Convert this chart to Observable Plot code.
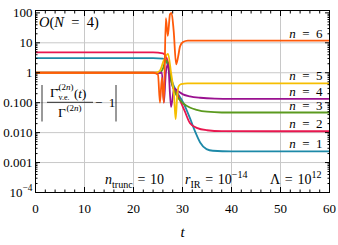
<!DOCTYPE html>
<html><head><meta charset="utf-8">
<script src="https://cdn.jsdelivr.net/npm/d3@7"></script>
<script src="https://cdn.jsdelivr.net/npm/@observablehq/plot@0.6"></script>
<style>body{margin:0;background:#fff}#chart{width:338px;height:245px}</style>
</head><body><div id="chart"></div>
<script>
// ---- data ----
const t1 = [0, 24, 26, 27.05, 27.8, 28.9, 30.1, 31.5, 32.5, 33.6, 34.9, 36.2, 40, 60];
const v1 = [3.1, 3.1, 2.95, 1.77, 0.55, 0.22, 0.104, 0.031, 0.0116, 0.0047, 0.0028, 0.00248, 0.00238, 0.00238];
const t2 = [0, 24, 26, 27.05, 27.46, 28.07, 28.9, 29.5, 30.5, 31.5, 32.9, 35, 38, 60];
const v2 = [4.8, 4.8, 4.4, 2.25, 0.86, 0.32, 0.2, 0.12, 0.05, 0.021, 0.0144, 0.012, 0.0112, 0.0111];
const t3 = [0, 25.4, 26, 26.6, 27.05, 27.66, 28.3, 28.9, 30.1, 31.5, 32.9, 35, 38, 60];
const v3 = [1, 1, 1.38, 2.65, 1.92, 0.55, 0.257, 0.163, 0.096, 0.069, 0.058, 0.05, 0.047, 0.047];
const t4 = [0, 25.4, 25.8, 26.2, 26.6, 27.05, 27.66, 28.3, 29.1, 30.1, 31.5, 33.6, 36.6, 40, 60];
const v4 = [1, 1, 1, 0.1, 1, 1.92, 0.072, 0.30, 0.24, 0.19, 0.163, 0.146, 0.137, 0.135, 0.135];
const t5 = [0, 24.6, 25.4, 26.2, 27.05, 27.66, 28.3, 28.6, 28.9, 29.2, 29.7, 31, 60];
const v5 = [1, 1, 1.18, 2.65, 4.3, 1.0, 0.15, 0.028, 0.15, 0.35, 0.42, 0.44, 0.44];
const t6 = [0, 24, 24.6, 25, 25.4, 25.8, 26.2, 26.6, 27, 27.45, 27.76, 28.2, 28.7, 29.1, 29.5, 30.1, 31.1, 60];
const v6 = [1, 1, 0.95, 0.86, 0.1, 0.69, 0.1, 66, 17, 90, 100, 25, 1.92, 3.4, 7.6, 10.6, 11.9, 11.9];

const seriesN = [1, 2, 3, 4, 5, 6];
const seriesT = [t1, t2, t3, t4, t5, t6];
const seriesV = [v1, v2, v3, v4, v5, v6];
const COLORS = ["#1d89a8", "#e8174f", "#5b9a1f", "#9a1190", "#f6be00", "#ff5a0a"];

const xMajor = [0, 10, 20, 30, 40, 50, 60];
const xGrid = [10, 20, 30, 40, 50];
const yTicks = [1e-4, 1e-3, 1e-2, 0.1, 1, 10, 100];
const yTickLabels = ["10^−4", "0.001", "0.010", "0.100", "1", "10", "100"];
const yGrid = [1e-3, 1e-2, 0.1, 1, 10];

// ---- build tables ----
const rows = [];
seriesN.forEach((n, i) => seriesT[i].forEach((t, j) => rows.push({n, t, v: seriesV[i][j]})));
const labels = seriesN.map((n, i) => ({n, v: seriesV[i][seriesV[i].length - 1]}));
const xMinor = d3.range(0, 61, 2);
const yMinor = [];
for (let e = -4; e < 2; e++) for (let k = 2; k <= 9; k++) yMinor.push(k * Math.pow(10, e));

const FONT = "'Liberation Serif', 'DejaVu Serif', serif";
const noText = () => "";

const plot = Plot.plot({
  width: 338, height: 245,
  marginLeft: 35, marginRight: 9, marginTop: 10, marginBottom: 53,
  style: {fontFamily: FONT, fontSize: "13px", background: "#fff", color: "#000"},
  x: {domain: [0, 60]},
  y: {type: "log", domain: [1e-4, 120]},
  color: {domain: seriesN, range: COLORS},
  marks: [
    Plot.gridX(xGrid, {stroke: "#c8c8c8", strokeOpacity: 1, strokeWidth: 1}),
    Plot.gridY(yGrid, {stroke: "#c8c8c8", strokeOpacity: 1, strokeWidth: 1}),
    Plot.line(rows, {x: "t", y: "v", z: "n", stroke: "n", strokeWidth: 1.8, curve: "monotone-x", clip: true}),
    Plot.text(labels, {y: "v", text: d => `n = ${d.n}`, frameAnchor: "right", dx: -7, dy: -3,
      textAnchor: "end", lineAnchor: "bottom", fontSize: 13, fill: "#000"}),
    Plot.frame({stroke: "#000", strokeWidth: 1}),
    Plot.axisX(xMajor, {anchor: "bottom", tickSize: -5, tickFormat: noText, label: null}),
    Plot.axisX(xMajor, {anchor: "top", tickSize: -5, tickFormat: noText, label: null}),
    Plot.axisX(xMinor, {anchor: "bottom", tickSize: -2.5, tickFormat: noText, label: null}),
    Plot.axisX(xMinor, {anchor: "top", tickSize: -2.5, tickFormat: noText, label: null}),
    Plot.axisY(yTicks, {anchor: "left", tickSize: -5, tickFormat: noText, label: null}),
    Plot.axisY(yTicks, {anchor: "right", tickSize: -5, tickFormat: noText, label: null}),
    Plot.axisY(yMinor, {anchor: "left", tickSize: -2.5, tickFormat: noText, label: null}),
    Plot.axisY(yMinor, {anchor: "right", tickSize: -2.5, tickFormat: noText, label: null}),
    Plot.axisX(xMajor, {anchor: "bottom", tickSize: 0, tickPadding: 11, fontSize: 13, label: null}),
    Plot.axisY(yTicks, {anchor: "left", tickSize: 0, tickPadding: 3, fontSize: 13, label: null,
      tickFormat: d => yTickLabels[yTicks.indexOf(d)]})
  ]
});
document.getElementById("chart").appendChild(plot);

// ---- rich text helpers ----
function setRich(el, parts, size) {
  const sel = d3.select(el);
  sel.text(null);
  let shift = 0;
  for (const p of parts) {
    const s = typeof p === "string" ? {t: p} : p;
    const target = s.sup ? -0.42 * size : s.sub ? 0.3 * size : 0;
    const ts = sel.append("tspan").text(s.t);
    if (target !== shift) ts.attr("dy", target - shift);
    shift = target;
    if (s.sup || s.sub) ts.attr("font-size", s.fs || size * 0.72);
    if (s.i) ts.attr("font-style", "italic");
  }
}
const svg = d3.select(plot);
function addText(x, y, parts, size, anchor = "start") {
  const el = svg.append("text").attr("x", x).attr("y", y).attr("font-size", size)
    .attr("font-family", FONT).attr("text-anchor", anchor).attr("fill", "#000");
  setRich(el.node(), parts, size);
  return el;
}
function addLine(x1, y1, x2, y2) {
  svg.append("line").attr("x1", x1).attr("y1", y1).attr("x2", x2).attr("y2", y2)
    .attr("stroke", "#000").attr("stroke-width", 0.8);
}

// tick label with superscript, line labels with italic n
svg.selectAll("text").each(function() {
  const s = this.textContent;
  if (s === "10^−4") setRich(this, ["10", {t: "−4", sup: 1}], 13);
  const m = /^n = (\d)$/.exec(s);
  if (m) setRich(this, [{t: "n", i: 1}, "\u2002=\u2002" + m[1]], 13);
});

const E = "\u2002";
const T = "\u2004";
// top-left label
addText(39, 27, [{t: "O", i: 1}, "(", {t: "N", i: 1}, E + "=" + E + "4)"], 14.5);
// fraction label
addLine(42, 85, 42, 121.5);
addLine(116, 85, 116, 121.5);
addText(50, 97, ["Γ\u0304"], 13.5);
addText(58.5, 90, ["(2", {t: "n", i: 1}, ")"], 9);
addText(58.5, 99.5, ["v.e."], 8);
addText(74, 97.5, ["(", {t: "t", i: 1}, ")"], 13);
addLine(47, 102.3, 93, 102.3);
addText(58, 117, ["Γ"], 13.5);
addText(66.5, 110.5, ["(2", {t: "n", i: 1}, ")"], 9);
addText(95, 106.5, ["−" + E + "1"], 13);
// bottom parameters
addText(105, 184, [{t: "n", i: 1}, {t: "trunc", sub: 1}, T + "=" + T + "10"], 14);
addText(185, 184, [{t: "r", i: 1}, {t: "IR", sub: 1}, T + "=" + T + "10", {t: "−14", sup: 1}], 14);
addText(270, 184, ["Λ" + T + "=" + T + "10", {t: "12", sup: 1}], 14);
// x axis label
addText(182.5, 237, [{t: "t", i: 1}], 15, "middle");
</script>
</body></html>
